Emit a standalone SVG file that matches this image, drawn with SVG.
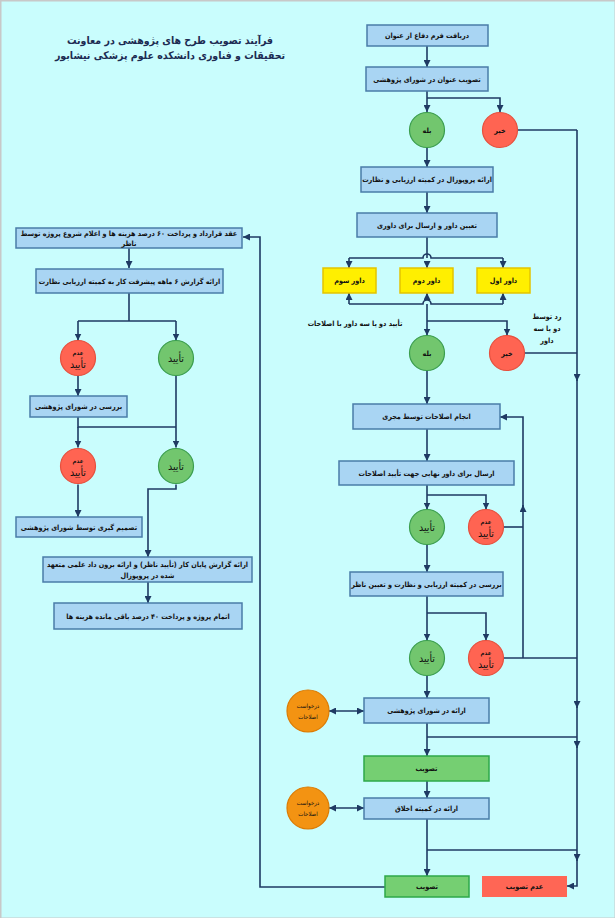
<svg xmlns="http://www.w3.org/2000/svg" width="615" height="918" viewBox="0 0 615 918">
<defs>
<marker id="ah" viewBox="0 0 10 10" refX="10" refY="5" markerWidth="7" markerHeight="7" markerUnits="userSpaceOnUse" orient="auto-start-reverse">
<path d="M0,0 L10,5 L0,10 z" fill="#1f3a63"/>
</marker>
<style>
.bg{fill:#c9fdfd;stroke:#c8c8c8;stroke-width:3}
.box{fill:#a9d5f3;stroke:#4a7ca8;stroke-width:1.5}
.gbox{fill:#75cf72;stroke:#2ea84a;stroke-width:1.5}
.rbox{fill:#ff6655;stroke:none}
.ybox{fill:#ffef00;stroke:#e3c400;stroke-width:1.5}
.gc{fill:#72c66e;stroke:#3b9e4e;stroke-width:1.2}
.rc{fill:#ff6452;stroke:#e6503e;stroke-width:1.2}
.oc{fill:#f39312;stroke:#dc7a00;stroke-width:1.2}
.c{fill:none;stroke:#1f3a63;stroke-width:1.6}
.a{marker-end:url(#ah)}
.d{marker-start:url(#ah);marker-end:url(#ah)}
text{font-family:"DejaVu Sans Condensed","DejaVu Sans",sans-serif;fill:#111;text-anchor:middle;direction:rtl;dominant-baseline:central}
.t{font-size:7.2px;font-weight:bold}
.s{font-size:7.2px;font-weight:bold}
.big{font-size:10.5px}
.tiny{font-size:6px}
.title{font-size:10.5px;font-weight:bold;fill:#1c2b52}
</style>
</defs>
<rect class="bg" x="0" y="0" width="616" height="919"/>

<g id="title">
<text class="title" x="170" y="40">فرآیند تصویب طرح های پژوهشی در معاونت</text>
<text class="title" x="170" y="55">تحقیقات و فناوری دانشکده علوم پزشکی نیشابور</text>
</g>

<g id="connectors">
<path class="c a" d="M427,46 V67"/>
<path class="c a" d="M427,91 V112"/>
<path class="c a" d="M427,98 H500 V112"/>
<path class="c" d="M517.5,130 H577"/>
<path class="c a" d="M577,130 V381"/>
<path class="c a" d="M577,378 V708"/>
<path class="c a" d="M577,705 V748"/>
<path class="c a" d="M577,745 V861"/>
<path class="c a" d="M577,858 V886 H567"/>
<path class="c a" d="M427,148 V167"/>
<path class="c a" d="M427,192 V213"/>
<path class="c" d="M427,237 V258"/>
<path class="c" d="M349,258 H423 A4,4 0 0 1 431,258 H503"/>
<path class="c a" d="M349,258 V268"/>
<path class="c a" d="M427,262 V268"/>
<path class="c a" d="M503,258 V268"/>
<path class="c" d="M349,304 H423 A4,4 0 0 1 431,304 H503"/>
<path class="c a" d="M349,304 V293"/>
<path class="c a" d="M427,300 V293"/>
<path class="c a" d="M503,304 V293"/>
<path class="c a" d="M427,304 V335.5"/>
<path class="c a" d="M427,321 H507 V335.5"/>
<path class="c" d="M524.5,353 H577"/>
<path class="c a" d="M427,370.5 V404"/>
<path class="c a" d="M427,429 V461"/>
<path class="c a" d="M427,485 V509.5"/>
<path class="c a" d="M427,495 H486 V509.5"/>
<path class="c" d="M503.5,527 H523"/>
<path class="c a" d="M523,658 V505"/>
<path class="c a" d="M523,508 V417 H500"/>
<path class="c a" d="M427,544.5 V572"/>
<path class="c a" d="M427,596 V640.5"/>
<path class="c a" d="M427,613 H486 V640.5"/>
<path class="c" d="M503.5,658 H577"/>
<path class="c a" d="M427,675.5 V698"/>
<path class="c d" d="M329,711 H364"/>
<path class="c a" d="M427,723 V756"/>
<path class="c" d="M427,737 H577"/>
<path class="c a" d="M427,781 V798"/>
<path class="c d" d="M329,808 H364"/>
<path class="c a" d="M427,819 V876"/>
<path class="c" d="M427,850 H577"/>
<path class="c a" d="M385,887 H260 V237 H243"/>
<path class="c a" d="M129,248 V268"/>
<path class="c" d="M129,293 V321 M78,321 H176"/>
<path class="c a" d="M78,321 V340.5"/>
<path class="c a" d="M176,321 V340.5"/>
<path class="c a" d="M78,375.5 V396"/>
<path class="c" d="M78,417 V427 H176"/>
<path class="c a" d="M176,375.5 V447.5"/>
<path class="c a" d="M78,427 V447.5"/>
<path class="c a" d="M78,484.5 V517"/>
<path class="c a" d="M176,484.5 V489 H148 V557"/>
<path class="c a" d="M148,582 V603"/>
</g>

<g id="n1"><rect class="box" x="367" y="25" width="121" height="21"/><text class="t" x="427" y="35.5">دریافت فرم دفاع از عنوان</text></g>
<g id="n2"><rect class="box" x="366" y="67" width="122" height="24"/><text class="t" x="427" y="79">تصویب عنوان در شورای پژوهشی</text></g>
<g id="c1"><circle class="gc" cx="427" cy="130" r="17.5"/><text class="t" x="427" y="130">بله</text></g>
<g id="c2"><circle class="rc" cx="500" cy="130" r="17.5"/><text class="t" x="500" y="130">خیر</text></g>
<g id="n3"><rect class="box" x="361" y="167" width="132" height="25"/><text class="t" x="427" y="179.5">ارائه پروپوزال در کمیته ارزیابی و نظارت</text></g>
<g id="n4"><rect class="box" x="357" y="213" width="140" height="24"/><text class="t" x="427" y="225">تعیین داور و ارسال برای داوری</text></g>
<g id="y3"><rect class="ybox" x="323" y="268" width="53" height="25"/><text class="t" x="349.5" y="280.5">داور سوم</text></g>
<g id="y2"><rect class="ybox" x="400" y="268" width="53" height="25"/><text class="t" x="426.5" y="280.5">داور دوم</text></g>
<g id="y1"><rect class="ybox" x="477" y="268" width="53" height="25"/><text class="t" x="503.5" y="280.5">داور اول</text></g>
<g id="lbl1"><text class="s" x="355" y="323">تأیید دو یا سه داور با اصلاحات</text></g>
<g id="lbl2"><text class="s" x="547" y="316">رد توسط</text><text class="s" x="547" y="328">دو یا سه</text><text class="s" x="547" y="340">داور</text></g>
<g id="c3"><circle class="gc" cx="427" cy="353" r="17.5"/><text class="t" x="427" y="353">بله</text></g>
<g id="c4"><circle class="rc" cx="507" cy="353" r="17.5"/><text class="t" x="507" y="353">خیر</text></g>
<g id="n5"><rect class="box" x="353" y="404" width="147" height="25"/><text class="t" x="426.5" y="416.5">انجام اصلاحات توسط مجری</text></g>
<g id="n6"><rect class="box" x="339" y="461" width="175" height="24"/><text class="t" x="426.5" y="473">ارسال برای داور نهایی جهت تأیید اصلاحات</text></g>
<g id="c5"><circle class="gc" cx="427" cy="527" r="17.5"/><text class="big" x="427" y="527">تأیید</text></g>
<g id="c6"><circle class="rc" cx="486" cy="527" r="17.5"/><text class="tiny" x="486" y="521" font-weight="bold">عدم</text><text class="big" x="486" y="533">تأیید</text></g>
<g id="n7"><rect class="box" x="350" y="572" width="153" height="24"/><text class="t" x="426.5" y="584">بررسی در کمیته ارزیابی و نظارت و تعیین ناظر</text></g>
<g id="c7"><circle class="gc" cx="427" cy="658" r="17.5"/><text class="big" x="427" y="658">تأیید</text></g>
<g id="c8"><circle class="rc" cx="486" cy="658" r="17.5"/><text class="tiny" x="486" y="652" font-weight="bold">عدم</text><text class="big" x="486" y="664">تأیید</text></g>
<g id="n8"><rect class="box" x="364" y="698" width="125" height="25"/><text class="t" x="426.5" y="710.5">ارائه در شورای پژوهشی</text></g>
<g id="o1"><circle class="oc" cx="308" cy="711" r="21"/><text class="tiny" x="308" y="705">درخواست</text><text class="tiny" x="308" y="716">اصلاحات</text></g>
<g id="n9"><rect class="gbox" x="364" y="756" width="125" height="25"/><text class="t" x="426.5" y="768.5">تصویب</text></g>
<g id="n10"><rect class="box" x="364" y="798" width="125" height="21"/><text class="t" x="426.5" y="808.5">ارائه در کمیته اخلاق</text></g>
<g id="o2"><circle class="oc" cx="308" cy="808" r="21"/><text class="tiny" x="308" y="802">درخواست</text><text class="tiny" x="308" y="813">اصلاحات</text></g>
<g id="n11"><rect class="gbox" x="385" y="876" width="84" height="21"/><text class="t" x="427" y="886.5">تصویب</text></g>
<g id="n12"><rect class="rbox" x="482" y="876" width="85" height="21"/><text class="t" x="524.5" y="886.5">عدم تصویب</text></g>

<g id="l1"><rect class="box" x="16" y="228" width="226" height="20"/><text class="t" x="129" y="233">عقد قرارداد و پرداخت ۶۰ درصد هزینه ها و اعلام شروع پروژه توسط</text><text class="t" x="129" y="243.5">ناظر</text></g>
<g id="l2"><rect class="box" x="36" y="269" width="187" height="24"/><text class="t" x="129.5" y="281">ارائه گزارش ۶ ماهه پیشرفت کار به کمیته ارزیابی نظارت</text></g>
<g id="lc1"><circle class="rc" cx="78" cy="358" r="17.5"/><text class="tiny" x="78" y="352" font-weight="bold">عدم</text><text class="big" x="78" y="364">تأیید</text></g>
<g id="lc2"><circle class="gc" cx="176" cy="358" r="17.5"/><text class="big" x="176" y="358">تأیید</text></g>
<g id="l3"><rect class="box" x="30" y="396" width="97" height="21"/><text class="t" x="78.5" y="406.5">بررسی در شورای پژوهشی</text></g>
<g id="lc3"><circle class="rc" cx="78" cy="466" r="17.5"/><text class="tiny" x="78" y="460" font-weight="bold">عدم</text><text class="big" x="78" y="472">تأیید</text></g>
<g id="lc4"><circle class="gc" cx="176" cy="466" r="17.5"/><text class="big" x="176" y="466">تأیید</text></g>
<g id="l4"><rect class="box" x="16" y="517" width="126" height="20"/><text class="t" x="79" y="527">تصمیم گیری توسط شورای پژوهشی</text></g>
<g id="l5"><rect class="box" x="43" y="557" width="209" height="25"/><text class="t" x="147.5" y="564">ارائه گزارش پایان کار (تأیید ناظر) و ارائه برون داد علمی متعهد</text><text class="t" x="147.5" y="575">شده در پروپوزال</text></g>
<g id="l6"><rect class="box" x="54" y="603" width="188" height="26"/><text class="t" x="148" y="616">اتمام پروژه و پرداخت ۴۰ درصد باقی مانده هزینه ها</text></g>
</svg>
